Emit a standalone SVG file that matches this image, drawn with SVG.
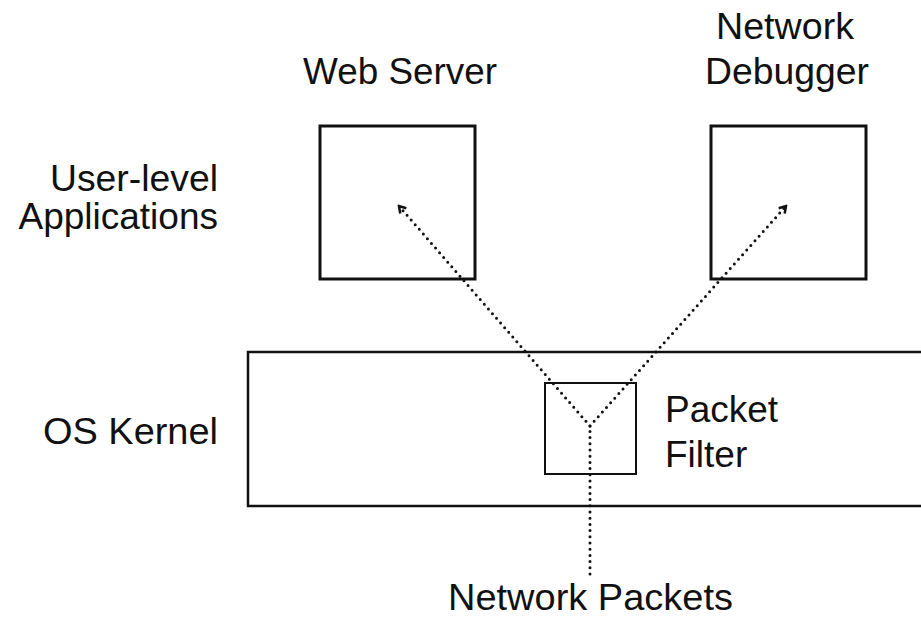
<svg xmlns="http://www.w3.org/2000/svg" width="921" height="618" viewBox="0 0 921 618">
<defs>
<style>
text{font-family:"Liberation Sans",Arial,sans-serif;font-size:37px;fill:#111}
.box{fill:none;stroke:#111;stroke-width:3}
.kbox{fill:none;stroke:#111;stroke-width:2.5}
.thin{fill:none;stroke:#111;stroke-width:2}
.dot{fill:none;stroke:#111;stroke-width:3;stroke-dasharray:0 6.2;stroke-linecap:round}
</style>
<marker id="ah" viewBox="0 0 10 10" refX="8" refY="5" markerWidth="10" markerHeight="10" markerUnits="userSpaceOnUse" orient="auto">
<path d="M1.5,1 L8,5 L1.5,9" fill="none" stroke="#111" stroke-width="2.5"/>
</marker>
</defs>
<rect width="921" height="618" fill="#fff"/>
<g id="labels">
<text x="218" y="191" text-anchor="end" textLength="168" lengthAdjust="spacingAndGlyphs">User-level</text>
<text x="218" y="229" text-anchor="end">Applications</text>
<text x="218" y="444" text-anchor="end" textLength="175" lengthAdjust="spacingAndGlyphs">OS Kernel</text>
</g>
<g id="web-server">
<rect class="box" x="320" y="126" width="155" height="153"/>
<text x="400" y="84" text-anchor="middle" textLength="194" lengthAdjust="spacingAndGlyphs">Web Server</text>
</g>
<g id="network-debugger">
<rect class="box" x="711" y="126" width="155" height="153"/>
<text x="785" y="39" text-anchor="middle" textLength="138" lengthAdjust="spacingAndGlyphs">Network</text>
<text x="787" y="84" text-anchor="middle" textLength="164" lengthAdjust="spacingAndGlyphs">Debugger</text>
</g>
<g id="os-kernel">
<rect class="kbox" x="248" y="352" width="690" height="154"/>
</g>
<g id="packet-filter">
<rect class="thin" x="545" y="383" width="91" height="91"/>
<text x="665" y="422">Packet</text>
<text x="665" y="467">Filter</text>
</g>
<g id="network-packets">
<text x="590.5" y="610" text-anchor="middle" textLength="285" lengthAdjust="spacingAndGlyphs">Network Packets</text>
</g>
<g id="connectors">
<line class="dot" x1="590" y1="574" x2="590" y2="426"/>
<line class="dot" x1="590" y1="426" x2="399" y2="206" marker-end="url(#ah)"/>
<line class="dot" x1="590" y1="426" x2="786" y2="206" marker-end="url(#ah)"/>
</g>
</svg>
